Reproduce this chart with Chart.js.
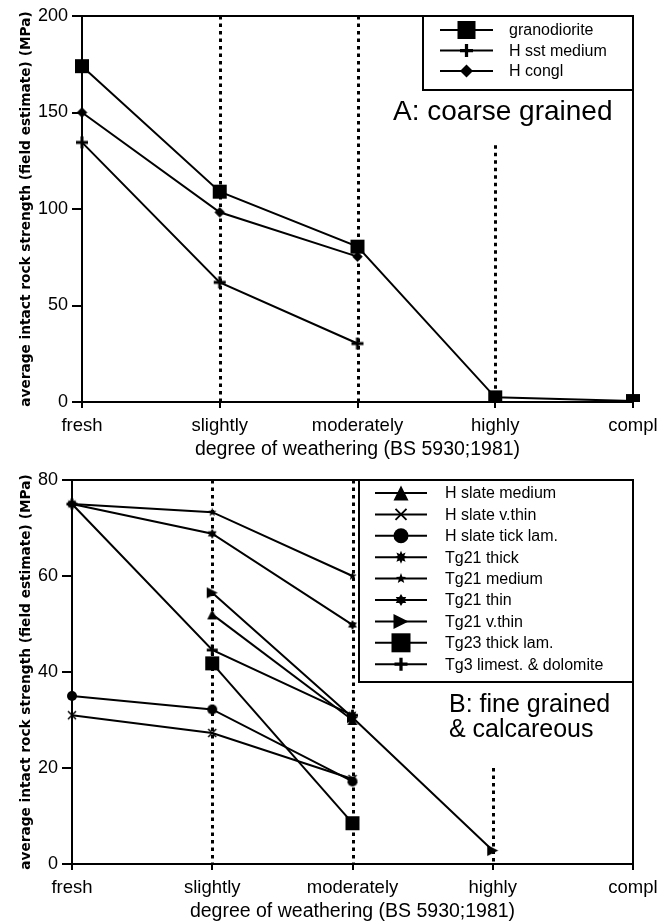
<!DOCTYPE html>
<html><head><meta charset="utf-8">
<script src="https://cdn.jsdelivr.net/npm/chart.js@4/dist/chart.umd.min.js"></script>
<style>
html,body{margin:0;padding:0;background:#fff;width:671px;height:923px;overflow:hidden}
canvas{position:absolute;left:0}
#c1{top:0}
#c2{top:462px}
</style></head><body>
<canvas id="c1" width="671" height="462"></canvas>
<canvas id="c2" width="671" height="461"></canvas>
<script>
// ---------- data ----------
const categories = ['fresh', 'slightly', 'moderately', 'highly', 'compl'];
const xTitle = 'degree of weathering (BS 5930;1981)';
const yTitle = 'average intact rock strength (field estimate) (MPa)';

// Panel A: coarse grained (MPa)
const coarseTicks = [0, 50, 100, 150, 200];
const granodiorite = [174, 109, 80.5, 2.4, 0.5];
const hSstMedium   = [134.5, 62, 30.3, null, null];
const hCongl       = [150, 98.3, 75.3, null, null];
const coarseGuides = [null, 200, 200, 133, null];

// Panel B: fine grained & calcareous (MPa)
const fineTicks = [0, 20, 40, 60, 80];
const hSlateMedium  = [null, 52, 30, null, null];
const hSlateVThin   = [31, 27.3, 17.7, null, null];
const hSlateTickLam = [35, 32.2, 17.2, null, null];
const tg21Thick     = [75, null, 31, null, null];
const tg21Medium    = [75, 73.3, 60, null, null];
const tg21Thin      = [75, 68.8, 49.8, null, null];
const tg21VThin     = [null, 56.5, 30.5, 2.8, null];
const tg23ThickLam  = [null, 41.8, 8.5, null, null];
const tg3Limest     = [75, 44.6, 31, null, null];
const fineGuides = [null, 80, 80, 20, null];

// ---------- markers ----------
function starPath(ctx, x, y, n, ro, ri) {
  for (let i = 0; i < 2 * n; i++) {
    const a = -Math.PI / 2 + i * Math.PI / n;
    const r = i % 2 ? ri : ro;
    const px = x + r * Math.cos(a), py = y + r * Math.sin(a);
    if (i === 0) ctx.moveTo(px, py); else ctx.lineTo(px, py);
  }
  ctx.closePath();
}
function drawMarker(ctx, type, x, y, s) {
  const h = s / 2;
  ctx.save();
  ctx.fillStyle = '#000'; ctx.strokeStyle = '#000'; ctx.setLineDash([]);
  ctx.beginPath();
  switch (type) {
    case 'square': ctx.fillRect(x - h, y - h, s, s); break;
    case 'plus':
      ctx.lineWidth = Math.max(2, s * 0.25);
      ctx.moveTo(x - h, y); ctx.lineTo(x + h, y); ctx.moveTo(x, y - h); ctx.lineTo(x, y + h); ctx.stroke(); break;
    case 'x':
      ctx.lineWidth = Math.max(1.5, s * 0.17);
      ctx.moveTo(x - h, y - h); ctx.lineTo(x + h, y + h); ctx.moveTo(x + h, y - h); ctx.lineTo(x - h, y + h); ctx.stroke(); break;
    case 'diamond':
      ctx.moveTo(x, y - h); ctx.lineTo(x + h, y); ctx.lineTo(x, y + h); ctx.lineTo(x - h, y); ctx.closePath(); ctx.fill(); break;
    case 'triUp':
      ctx.moveTo(x, y - h); ctx.lineTo(x + h, y + h); ctx.lineTo(x - h, y + h); ctx.closePath(); ctx.fill(); break;
    case 'triRight':
      ctx.moveTo(x + h, y); ctx.lineTo(x - h, y - h); ctx.lineTo(x - h, y + h); ctx.closePath(); ctx.fill(); break;
    case 'circle': ctx.arc(x, y, h, 0, Math.PI * 2); ctx.fill(); break;
    case 'star8': starPath(ctx, x, y, 8, h, h * 0.55); ctx.fill(); break;
    case 'star5': starPath(ctx, x, y, 5, h, h * 0.42); ctx.fill(); break;
    case 'star6': starPath(ctx, x, y, 6, h, h * 0.6); ctx.fill(); break;
  }
  ctx.restore();
}
function markerCanvas(type, s) {
  const c = document.createElement('canvas');
  const n = Math.ceil(s + 4);
  c.width = n; c.height = n;
  drawMarker(c.getContext('2d'), type, n / 2, n / 2, s);
  return c;
}
function ds(label, data, marker, size, legendSize) {
  return {
    label, data, marker, legendSize,
    pointStyle: markerCanvas(marker, size), pointRadius: 5,
    borderColor: '#000', backgroundColor: '#000', borderWidth: 2,
    tension: 0, fill: false, spanGaps: false
  };
}

// ---------- decoration plugin ----------
const decorPlugin = {
  id: 'decor',
  beforeDatasetsDraw(chart, args, opts) {
    const { ctx, chartArea: a, scales: { x, y } } = chart;
    ctx.save();
    ctx.strokeStyle = '#000'; ctx.lineWidth = 2;
    ctx.beginPath();
    ctx.moveTo(a.left, a.top); ctx.lineTo(a.right, a.top); ctx.lineTo(a.right, a.bottom);
    ctx.stroke();
    ctx.lineWidth = 3; ctx.setLineDash([3.5, 4]); ctx.lineCap = 'butt';
    const g = opts.guides;
    for (let i = 0; i < g.length; i++) {
      if (g[i] == null) continue;
      const px = Math.round(x.getPixelForValue(i)) + 0.5;
      ctx.beginPath(); ctx.moveTo(px, y.getPixelForValue(g[i])); ctx.lineTo(px, a.bottom); ctx.stroke();
    }
    ctx.restore();
  },
  afterDatasetsDraw(chart, args, opts) {
    const { ctx } = chart;
    const L = opts.legend;
    ctx.save();
    ctx.fillStyle = '#fff';
    ctx.fillRect(L.x1, L.y1, L.x2 - L.x1, L.y2 - L.y1);
    ctx.strokeStyle = '#000'; ctx.lineWidth = 2;
    ctx.strokeRect(L.x1, L.y1, L.x2 - L.x1, L.y2 - L.y1);
    chart.data.datasets.forEach((d, i) => {
      const ry = L.rowY + i * L.rowDy;
      ctx.strokeStyle = '#000'; ctx.lineWidth = 2;
      ctx.beginPath(); ctx.moveTo(L.lx1, ry); ctx.lineTo(L.lx2, ry); ctx.stroke();
      drawMarker(ctx, d.marker, (L.lx1 + L.lx2) / 2, ry, d.legendSize);
      ctx.fillStyle = '#000';
      ctx.font = L.font;
      ctx.textBaseline = 'middle'; ctx.textAlign = 'left';
      ctx.fillText(d.label, L.tx, ry + 1);
    });
    ctx.fillStyle = '#000';
    ctx.textBaseline = 'alphabetic'; ctx.textAlign = 'left';
    opts.panel.forEach(p => { ctx.font = p.font; ctx.fillText(p.text, p.x, p.y); });
    ctx.restore();
  }
};

Chart.defaults.font.family = "'Liberation Sans', Arial, sans-serif";
Chart.defaults.color = '#000';

function scalesFor(ticks, yWidth, xHeight, titleBottomPad) {
  return {
    x: {
      offset: false,
      afterFit: s => { s.height = xHeight; },
      ticks: { color: '#000', font: { size: 18.5 }, padding: 7, maxRotation: 0, autoSkip: false },
      grid: { drawOnChartArea: false, tickLength: 6, color: '#000', lineWidth: 2, offset: false },
      border: { color: '#000', width: 2 },
      title: { display: true, text: xTitle, color: '#000', font: { size: 19.5 }, padding: { top: 0, bottom: titleBottomPad } }
    },
    y: {
      min: ticks[0], max: ticks[ticks.length - 1],
      afterFit: s => { s.width = yWidth; },
      ticks: { stepSize: ticks[1] - ticks[0], color: '#000', font: { size: 18 }, padding: 4 },
      grid: { drawOnChartArea: false, tickLength: 10, color: '#000', lineWidth: 2 },
      border: { color: '#000', width: 2 },
      title: { display: true, text: yTitle, color: '#000',
               font: { family: "'DejaVu Sans', sans-serif", weight: 'bold', size: 13.7 },
               padding: { top: 18, bottom: 0 } }
    }
  };
}

new Chart(document.getElementById('c1'), {
  type: 'line',
  data: {
    labels: categories,
    datasets: [
      ds('granodiorite', granodiorite, 'square', 14, 18),
      ds('H sst medium', hSstMedium, 'plus', 12, 13),
      ds('H congl', hCongl, 'diamond', 10.5, 13)
    ]
  },
  options: {
    responsive: false, animation: false, devicePixelRatio: 1, events: [],
    layout: { padding: { top: 16, right: 38, left: 0, bottom: 0 } },
    scales: scalesFor(coarseTicks, 82, 60, 1),
    plugins: {
      legend: { display: false }, tooltip: { enabled: false },
      decor: {
        guides: coarseGuides,
        legend: { x1: 423, y1: 16, x2: 633, y2: 90, rowY: 30, rowDy: 20.5, lx1: 440, lx2: 493, tx: 509,
                  font: "16px 'Liberation Sans', Arial, sans-serif" },
        panel: [{ text: 'A: coarse grained', x: 393, y: 120, font: "28px 'Liberation Sans', Arial, sans-serif" }]
      }
    }
  },
  plugins: [decorPlugin]
});

new Chart(document.getElementById('c2'), {
  type: 'line',
  data: {
    labels: categories,
    datasets: [
      ds('H slate medium', hSlateMedium, 'triUp', 10, 15),
      ds('H slate v.thin', hSlateVThin, 'x', 8, 11),
      ds('H slate tick lam.', hSlateTickLam, 'circle', 10, 15),
      ds('Tg21 thick', tg21Thick, 'star8', 11, 13),
      ds('Tg21 medium', tg21Medium, 'star5', 9, 11),
      ds('Tg21 thin', tg21Thin, 'star6', 10, 12),
      ds('Tg21 v.thin', tg21VThin, 'triRight', 11, 15),
      ds('Tg23 thick lam.', tg23ThickLam, 'square', 14, 19),
      ds('Tg3 limest. & dolomite', tg3Limest, 'plus', 11, 13)
    ]
  },
  options: {
    responsive: false, animation: false, devicePixelRatio: 1, events: [],
    layout: { padding: { top: 18, right: 38, left: 0, bottom: 0 } },
    scales: scalesFor(fineTicks, 72, 59, 0),
    plugins: {
      legend: { display: false }, tooltip: { enabled: false },
      decor: {
        guides: fineGuides,
        legend: { x1: 359, y1: 18, x2: 633, y2: 220, rowY: 31, rowDy: 21.4, lx1: 375, lx2: 427, tx: 445,
                  font: "16px 'Liberation Sans', Arial, sans-serif" },
        panel: [
          { text: 'B: fine grained', x: 449, y: 250, font: "25px 'Liberation Sans', Arial, sans-serif" },
          { text: '& calcareous', x: 449, y: 275, font: "25px 'Liberation Sans', Arial, sans-serif" }
        ]
      }
    }
  },
  plugins: [decorPlugin]
});
</script>
</body></html>
